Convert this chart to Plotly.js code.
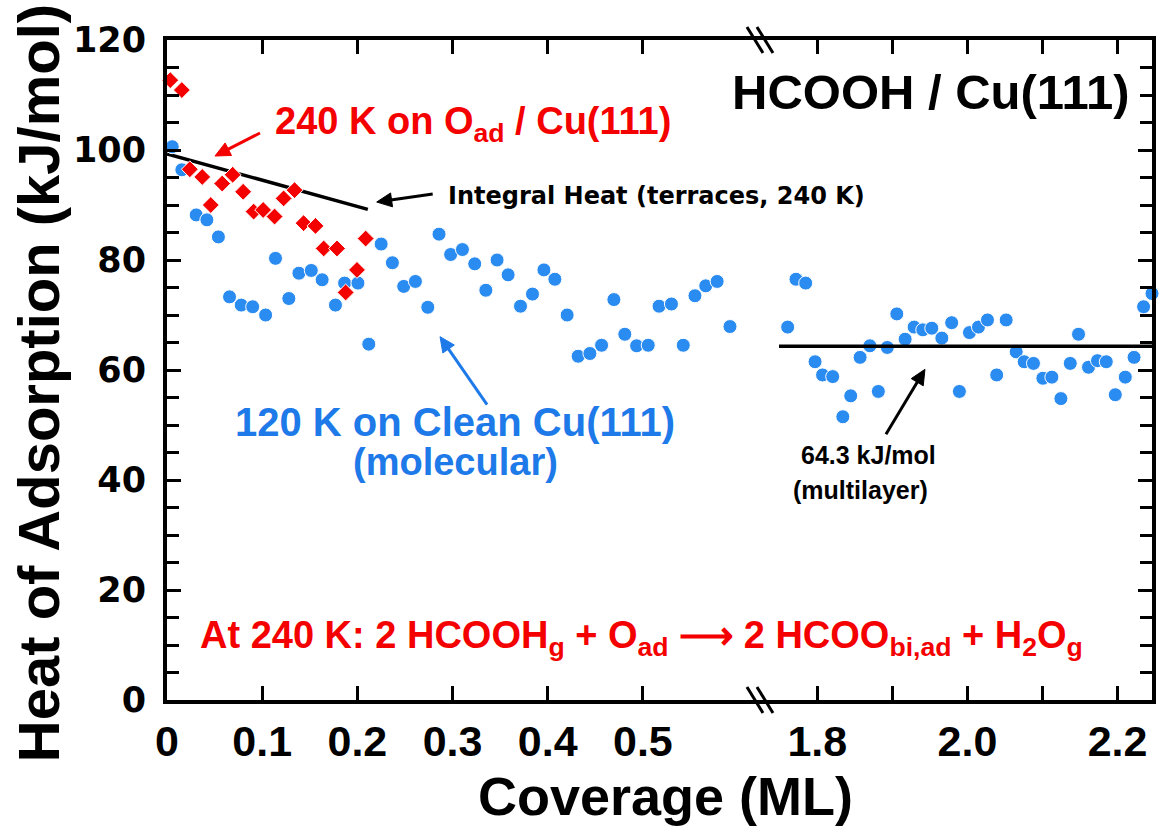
<!DOCTYPE html>
<html>
<head>
<meta charset="utf-8">
<script src="https://cdn.plot.ly/plotly-3.0.1.min.js"></script>
<style>
  html, body { margin: 0; padding: 0; background: #fff; }
  #chart { width: 1159px; height: 829px; }
</style>
</head>
<body>
<div id="chart"></div>
<script>
// HCOOH on Cu(111): calorimetric heat of adsorption vs. coverage

// 240 K on O_ad / Cu(111)
const oxyCoverage = [0.0034, 0.0156, 0.024, 0.037, 0.046, 0.058, 0.069, 0.080, 0.091, 0.101,
                     0.113, 0.1225, 0.134, 0.1435, 0.156, 0.1646, 0.1786, 0.1877, 0.1996, 0.2087];
const oxyHeat     = [112.7, 110.9, 96.5, 95.1, 90.0, 93.9, 95.5, 92.4, 88.8, 89.1,
                     87.9, 91.2, 92.7, 86.7, 86.2, 82.1, 82.1, 74.1, 78.2, 83.9];

// 120 K on clean Cu(111), low-coverage part
const cleanCoverageLow = [0.0055, 0.0156, 0.0307, 0.0419, 0.054, 0.0657, 0.078, 0.090, 0.1036, 0.114,
                          0.128, 0.1386, 0.1516, 0.163, 0.177, 0.1866, 0.2006, 0.212, 0.225, 0.2368,
                          0.2487, 0.261, 0.274, 0.2858, 0.298, 0.3104, 0.3233, 0.335, 0.3468, 0.3584,
                          0.3714, 0.384, 0.396, 0.4075, 0.4204, 0.432, 0.4443, 0.4566, 0.4695, 0.481,
                          0.4934, 0.5056, 0.517, 0.530, 0.5424, 0.5547, 0.566, 0.578, 0.5915];
const cleanHeatLow     = [100.6, 96.4, 88.2, 87.3, 84.2, 73.3, 71.8, 71.5, 70.0, 80.3,
                          73.0, 77.6, 78.1, 76.4, 71.8, 75.8, 75.8, 64.7, 82.9, 79.5,
                          75.2, 76.1, 71.4, 84.7, 81.0, 81.9, 79.3, 74.5, 80.0, 77.3,
                          71.6, 73.8, 78.2, 76.5, 70.0, 62.5, 63.0, 64.5, 72.8, 66.5,
                          64.4, 64.5, 71.6, 72.0, 64.5, 73.5, 75.3, 76.1, 67.9];

// 120 K on clean Cu(111), multilayer region
const cleanCoverageHigh = [1.7605, 1.7716, 1.7845, 1.797, 1.807, 1.8205, 1.834, 1.8445, 1.857, 1.870,
                           1.8813, 1.8933, 1.9059, 1.917, 1.929, 1.9405, 1.9525, 1.9659, 1.979, 1.9893,
                           2.0027, 2.0147, 2.0267, 2.039, 2.0516, 2.065, 2.0756, 2.088, 2.1005, 2.1125,
                           2.1245, 2.137, 2.148, 2.1613, 2.1733, 2.185, 2.197, 2.2103, 2.222, 2.2347, 2.2459];
const cleanHeatHigh     = [67.8, 76.5, 75.8, 61.5, 59.1, 58.8, 51.5, 55.3, 62.3, 64.4,
                           56.1, 64.1, 70.2, 65.6, 67.8, 67.3, 67.6, 65.8, 68.6, 56.1,
                           66.8, 67.8, 69.1, 59.1, 69.1, 63.3, 61.5, 61.2, 58.5, 58.7,
                           54.8, 61.2, 66.5, 60.5, 61.7, 61.5, 55.5, 58.7, 62.3, 71.5, 73.9];

// Integral heat on terraces at 240 K (straight segment)
const integralCoverage = [0.0, 0.211];
const integralHeat     = [99.3, 89.2];

// Multilayer heat of adsorption
const multilayerHeat = 64.3;
const multilayerCoverage = [1.749, 2.2459];

// Axis ticks
const yTicks = [0, 20, 40, 60, 80, 100, 120];
const xTicksLow = [0, 0.1, 0.2, 0.3, 0.4, 0.5];
const xLabelsLow = ['0', '0.1', '0.2', '0.3', '0.4', '0.5'];
const xTicksHigh = [1.8, 2.0, 2.2];
const xLabelsHigh = ['1.8', '2.0', '2.2'];

const RED = '#f40000';
const BLUE = '#2a8bf0';
const BLUE_TEXT = '#1e7ae8';
const BREAK = 0.602;

const ARIAL = 'Liberation Sans, Arial, sans-serif';
const WIDE = 'DejaVu Sans, Verdana, sans-serif';

const traces = [
  {
    x: integralCoverage, y: integralHeat, xaxis: 'x', yaxis: 'y',
    type: 'scatter', mode: 'lines', line: { color: '#000', width: 3.5 },
    hoverinfo: 'skip'
  },
  {
    x: cleanCoverageLow, y: cleanHeatLow, xaxis: 'x', yaxis: 'y',
    type: 'scatter', mode: 'markers', cliponaxis: false,
    marker: { symbol: 'circle', size: 14, color: BLUE, line: { color: '#ffffff', width: 1 } }
  },
  {
    x: oxyCoverage, y: oxyHeat, xaxis: 'x', yaxis: 'y',
    type: 'scatter', mode: 'markers', cliponaxis: false,
    marker: { symbol: 'diamond', size: 13, color: RED, line: { color: '#ffffff', width: 1 } }
  },
  {
    x: cleanCoverageHigh, y: cleanHeatHigh, xaxis: 'x2', yaxis: 'y2',
    type: 'scatter', mode: 'markers', cliponaxis: false,
    marker: { symbol: 'circle', size: 14, color: BLUE, line: { color: '#ffffff', width: 1 } }
  },
  {
    x: multilayerCoverage, y: multilayerCoverage.map(() => multilayerHeat), xaxis: 'x2', yaxis: 'y2',
    type: 'scatter', mode: 'lines', line: { color: '#000', width: 3.5 },
    hoverinfo: 'skip'
  }
];

const frame = {
  showline: true, linecolor: '#000', linewidth: 4,
  ticks: 'inside', tickcolor: '#000', tickwidth: 3, ticklen: 14,
  showgrid: false, zeroline: false
};

const xTickFont = { family: ARIAL, size: 43, color: '#000', weight: 'bold' };
const yTickFont = { family: WIDE, size: 35, color: '#000', weight: 'bold' };
const yMinor = { dtick: 5, ticks: 'inside', ticklen: 12, tickwidth: 3, tickcolor: '#000' };

// Arrow drawn as a stem plus a filled head; head anchored in paper units,
// tail given as a pixel offset from the head (y pointing up).
function arrow(xh, yh, dx, dy, color) {
  const len = Math.hypot(dx, dy);
  const ux = dx / len, uy = dy / len;
  const headLen = 15, headHalf = 7;
  const bx = ux * headLen, by = uy * headLen;
  const px = -uy * headHalf, py = ux * headHalf;
  const base = { xref: 'paper', yref: 'paper', xsizemode: 'pixel', ysizemode: 'pixel', xanchor: xh, yanchor: yh };
  return [
    Object.assign({}, base, { type: 'line', x0: dx, y0: dy, x1: bx * 0.6, y1: by * 0.6, line: { color: color, width: 3 } }),
    Object.assign({}, base, {
      type: 'path',
      path: `M0,0 L${(bx + px).toFixed(2)},${(by + py).toFixed(2)} L${(bx - px).toFixed(2)},${(by - py).toFixed(2)} Z`,
      fillcolor: color, line: { color: color, width: 1 }
    })
  ];
}

const layout = {
  width: 1159, height: 829,
  margin: { l: 167, r: 7, t: 40, b: 129, pad: 0 },
  paper_bgcolor: '#fff', plot_bgcolor: '#fff',
  showlegend: false,
  xaxis: Object.assign({}, frame, {
    domain: [0, BREAK], range: [0, 0.623], anchor: 'y', mirror: 'ticks',
    tickmode: 'array', tickvals: xTicksLow, ticktext: xLabelsLow,
    tickfont: xTickFont, ticklabelstandoff: 0
  }),
  xaxis2: Object.assign({}, frame, {
    domain: [BREAK, 1], range: [1.7236, 2.2459], anchor: 'y2', mirror: 'ticks',
    tickmode: 'array', tickvals: xTicksHigh, ticktext: xLabelsHigh,
    minor: { tick0: 1.8, dtick: 0.1, ticks: 'inside', ticklen: 14, tickwidth: 3, tickcolor: '#000' },
    tickfont: xTickFont, ticklabelstandoff: 0
  }),
  yaxis: Object.assign({}, frame, {
    domain: [0, 1], range: [0, 120], anchor: 'x', side: 'left',
    tickmode: 'array', tickvals: yTicks, minor: yMinor,
    tickfont: yTickFont, ticklabelstandoff: 10
  }),
  yaxis2: Object.assign({}, frame, {
    domain: [0, 1], range: [0, 120], anchor: 'x2', side: 'right',
    tickmode: 'array', tickvals: yTicks, minor: yMinor, showticklabels: false
  }),
  shapes: [
    // axis break marks, bottom and top
    ...[0, 1].flatMap(yb => [-10, 0].map(dx => ({
      type: 'line', xref: 'paper', yref: 'paper',
      xsizemode: 'pixel', ysizemode: 'pixel', xanchor: BREAK, yanchor: yb,
      x0: dx - 3, y0: 13, x1: dx + 13, y1: -13,
      line: { color: '#000', width: 3 }
    }))),
    ...arrow(0.0487, 0.8242, 45, 23, RED),
    ...arrow(0.2129, 0.7545, 56, 8, '#000'),
    ...arrow(0.2772, 0.5505, 47, -68, BLUE_TEXT),
    ...arrow(0.7695, 0.501, -39, -65, '#000')
  ],
  annotations: [
    {
      text: 'Heat of Adsorption (kJ/mol)', xref: 'paper', yref: 'paper', x: -0.131, y: 0.48,
      textangle: -90, xanchor: 'center', yanchor: 'middle', showarrow: false,
      font: { family: ARIAL, size: 58, color: '#000', weight: 'bold' }
    },
    {
      text: 'Coverage (ML)', xref: 'paper', yref: 'paper', x: 0.506, y: -0.146,
      xanchor: 'center', yanchor: 'middle', showarrow: false,
      font: { family: ARIAL, size: 54, color: '#000', weight: 'bold' }
    },
    {
      text: 'HCOOH / Cu(111)', xref: 'paper', yref: 'paper', x: 0.7756, y: 0.9212,
      xanchor: 'center', yanchor: 'middle', showarrow: false,
      font: { family: ARIAL, size: 49, color: '#000', weight: 'bold' }
    },
    {
      text: '240 K on O<sub>ad</sub> / Cu(111)', xref: 'paper', yref: 'paper', x: 0.3107, y: 0.872,
      xanchor: 'center', yanchor: 'middle', showarrow: false,
      font: { family: ARIAL, size: 38, color: RED, weight: 'bold' }
    },
    {
      text: 'Integral Heat (terraces, 240 K)', xref: 'paper', yref: 'paper', x: 0.497, y: 0.7636,
      xanchor: 'center', yanchor: 'middle', showarrow: false,
      font: { family: WIDE, size: 24, color: '#000', weight: 'bold' }
    },
    {
      text: '120 K on Clean Cu(111)', xref: 'paper', yref: 'paper', x: 0.292, y: 0.4212,
      xanchor: 'center', yanchor: 'middle', showarrow: false,
      font: { family: ARIAL, size: 40, color: BLUE_TEXT, weight: 'bold' }
    },
    {
      text: '(molecular)', xref: 'paper', yref: 'paper', x: 0.2934, y: 0.3606,
      xanchor: 'center', yanchor: 'middle', showarrow: false,
      font: { family: ARIAL, size: 38, color: BLUE_TEXT, weight: 'bold' }
    },
    {
      text: multilayerHeat.toFixed(1) + ' kJ/mol', xref: 'paper', yref: 'paper', x: 0.7117, y: 0.3712,
      xanchor: 'center', yanchor: 'middle', showarrow: false,
      font: { family: ARIAL, size: 25, color: '#000', weight: 'bold' }
    },
    {
      text: '(multilayer)', xref: 'paper', yref: 'paper', x: 0.7036, y: 0.318,
      xanchor: 'center', yanchor: 'middle', showarrow: false,
      font: { family: ARIAL, size: 25, color: '#000', weight: 'bold' }
    },
    {
      text: 'At 240 K: 2 HCOOH<sub>g</sub> + O<sub>ad</sub> \u27F6 2 HCOO<sub>bi,ad</sub> + H<sub>2</sub>O<sub>g</sub>',
      xref: 'paper', yref: 'paper', x: 0.4822, y: 0.0939,
      xanchor: 'center', yanchor: 'middle', showarrow: false,
      font: { family: ARIAL, size: 38, color: RED, weight: 'bold' }
    }
  ]
};

Plotly.newPlot('chart', traces, layout, { staticPlot: true, displayModeBar: false });
</script>
</body>
</html>
